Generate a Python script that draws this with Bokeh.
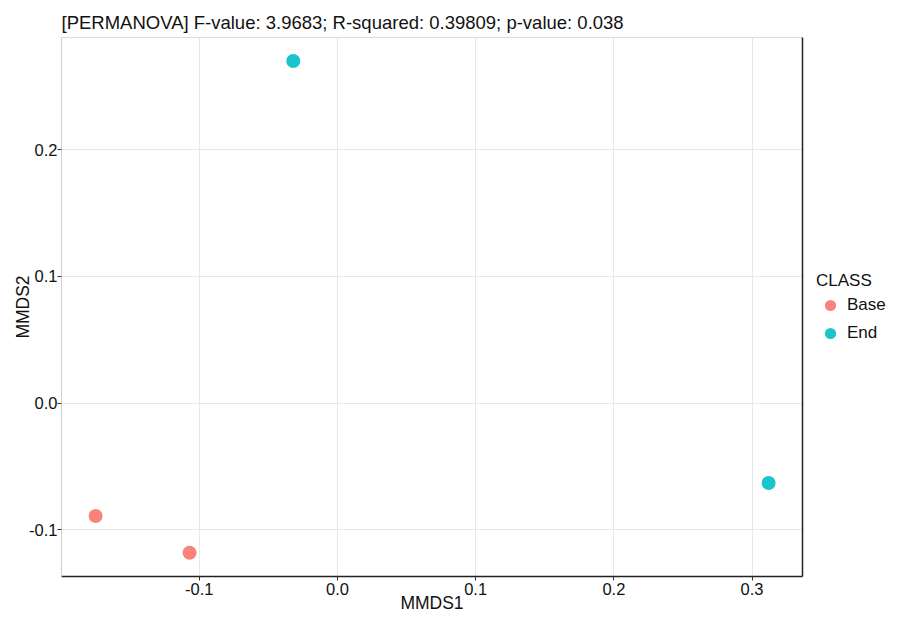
from bokeh.plotting import figure
from bokeh.layouts import row
from bokeh.models import (Range1d, LinearAxis, Legend, LegendItem, ColumnDataSource,
                          FixedTicker, NumeralTickFormatter)
from bokeh.embed import file_html
from bokeh.resources import INLINE

# ---- data ----
class_labels = ["Base", "Base", "End", "End"]
mmds1 = [-0.175, -0.107, -0.032, 0.312]
mmds2 = [-0.089, -0.118, 0.270, -0.063]
classes = ["Base", "End"]
class_colors = ["#F8766D", "#00BFC4"]
x_ticks = [-0.1, 0.0, 0.1, 0.2, 0.3]
y_ticks = [-0.1, 0.0, 0.1, 0.2]
title_text = "[PERMANOVA] F-value: 3.9683; R-squared: 0.39809; p-value: 0.038"

FONT = "Liberation Sans"
TXT = "#111111"
PT_SIZE = 14
PT_ALPHA = 0.9

p = figure(width=808, height=620, output_backend="svg", toolbar_location=None,
           x_range=Range1d(-0.1997, 0.3365), y_range=Range1d(-0.1368, 0.2886),
           min_border_left=61, min_border_right=6, min_border_top=37, min_border_bottom=44)
p.background_fill_color = "white"
p.border_fill_color = "white"
p.outline_line_color = "#DADADA"
p.outline_line_width = 1

p.title.text = title_text
p.title.text_font = FONT
p.title.text_font_size = "18.5px"
p.title.text_font_style = "normal"
p.title.text_color = TXT
p.title.align = "left"
p.title.offset = 0
p.title.standoff = 10

for ax in (p.xaxis[0], p.yaxis[0]):
    ax.major_label_text_font = FONT
    ax.major_label_text_font_size = "16.5px"
    ax.major_label_text_color = TXT
    ax.axis_label_text_font = FONT
    ax.axis_label_text_font_size = "17.5px"
    ax.axis_label_text_font_style = "normal"
    ax.axis_label_text_color = TXT
    ax.major_tick_in = 0
    ax.major_tick_out = 4
    ax.major_tick_line_color = "#333333"
    ax.minor_tick_line_color = None
    ax.formatter = NumeralTickFormatter(format="0.0")

p.xaxis[0].ticker = FixedTicker(ticks=x_ticks)
p.yaxis[0].ticker = FixedTicker(ticks=y_ticks)
p.xaxis[0].axis_label = "MMDS1"
p.yaxis[0].axis_label = "MMDS2"
p.xaxis[0].axis_line_color = "#222222"
p.xaxis[0].axis_line_width = 1.5
p.yaxis[0].axis_line_color = "#CFCFCF"
p.xaxis[0].major_label_standoff = 2
p.yaxis[0].major_label_standoff = 0
p.xaxis[0].axis_label_standoff = -5
p.yaxis[0].axis_label_standoff = -7

right_axis = LinearAxis(ticker=FixedTicker(ticks=[]), major_label_text_font_size="0px",
                        major_tick_line_color=None, minor_tick_line_color=None,
                        axis_line_color="#222222", axis_line_width=1.5)
p.add_layout(right_axis, "right")

p.xgrid.ticker = FixedTicker(ticks=x_ticks)
p.ygrid.ticker = FixedTicker(ticks=y_ticks)
p.grid.grid_line_color = "#E8E8E8"
p.grid.grid_line_width = 1

sources = []
for cls, col in zip(classes, class_colors):
    xs = [x for x, c in zip(mmds1, class_labels) if c == cls]
    ys = [y for y, c in zip(mmds2, class_labels) if c == cls]
    src = ColumnDataSource(dict(x=xs, y=ys))
    sources.append(src)
    p.scatter("x", "y", source=src, size=PT_SIZE, fill_color=col, line_color=None, fill_alpha=PT_ALPHA)

# ---- legend panel (separate narrow figure to the right; its ranges keep the
#      class points out of view so only the legend keys are drawn) ----
lg = figure(width=94, height=620, output_backend="svg", toolbar_location=None,
            x_axis_type=None, y_axis_type=None, min_border=0,
            x_range=Range1d(10, 11), y_range=Range1d(10, 11))
lg.outline_line_color = None
lg.grid.visible = False
lg.background_fill_color = "white"
lg.border_fill_color = "white"

items = []
for cls, col, src in zip(classes, class_colors, sources):
    r = lg.scatter("x", "y", source=src, size=PT_SIZE, fill_color=col, line_color=None, fill_alpha=PT_ALPHA)
    items.append(LegendItem(label=cls, renderers=[r]))

legend = Legend(items=items, title="CLASS", location=(8, 229))
legend.title_text_font = FONT
legend.title_text_font_size = "17px"
legend.title_text_font_style = "normal"
legend.title_text_color = TXT
legend.title_standoff = 0
legend.label_text_font = FONT
legend.label_text_font_size = "17px"
legend.label_text_color = TXT
legend.glyph_width = 28
legend.glyph_height = 28
legend.spacing = 0
legend.label_standoff = 3
legend.padding = 0
legend.margin = 0
legend.background_fill_alpha = 0
legend.border_line_color = None
lg.add_layout(legend)

layout = row(p, lg)
open("out.html", "w").write(file_html(layout, INLINE))
